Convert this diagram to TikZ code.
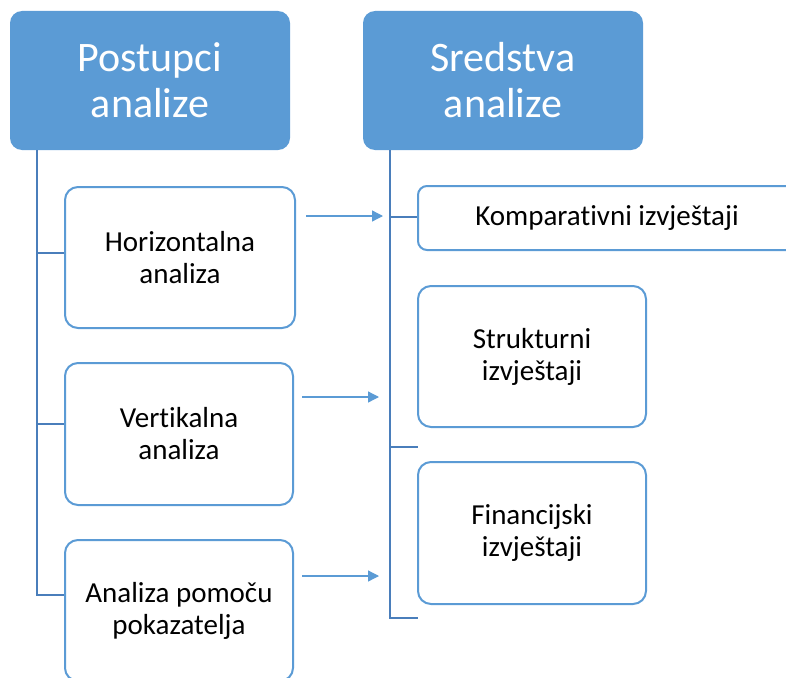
\documentclass[tikz,border=0pt]{standalone}
\usepackage{fontspec}
\setmainfont{Carlito}[RawFeature={-liga;-clig;-calt;-dlig;-rlig}]
\usetikzlibrary{arrows.meta}
\definecolor{hdr}{HTML}{5B9BD5}
\definecolor{bord}{HTML}{5B9BD5}
\definecolor{conn}{HTML}{4A7EBB}
\begin{document}
\begin{tikzpicture}[x=1pt,y=1pt,
  header/.style={draw=none,fill=hdr,rounded corners=12pt,text=white,align=center,
    font=\fontsize{42}{46}\selectfont,inner sep=0pt},
  itembox/.style={draw=bord,line width=2pt,fill=white,rounded corners=13pt,align=center,
    font=\fontsize{29}{32}\selectfont,inner sep=0pt},
  spine/.style={draw=conn,line width=2.6pt},
  arr/.style={draw=bord,line width=1.3pt,-{Triangle[length=11pt,width=11pt]}}]
\useasboundingbox (0,0) rectangle (786,-677);
\clip (0,0) rectangle (786,-677);
% headers
\node[header,minimum width=280,minimum height=139] (h1) at (150,-80.5) {Postupci\\analize};
\node[header,minimum width=280,minimum height=139] (h2) at (503,-80.5) {Sredstva\\analize};
% spine coordinates
\coordinate (sL) at (37,0);
\coordinate (sR) at (390,0);
% left spine
\draw[spine] (h1.south -| sL) -- (sL |- 0,-595) -- (65,-595) coordinate (l3b);
\draw[spine] (sL |- 0,-253) -- (65,-253) coordinate (l1b);
\draw[spine] (sL |- 0,-424) -- (65,-424) coordinate (l2b);
% right spine
\draw[spine] (h2.south -| sR) -- (sR |- 0,-618) -- (418,-618) coordinate (rEnd);
\draw[spine] (sR |- 0,-217) -- (418,-217) coordinate (rAb);
\draw[spine] (sR |- 0,-447) -- (418,-447) coordinate (rMid);
% left boxes
\node[itembox,minimum width=230,minimum height=141] (l1) at (180,-257.5) {Horizontalna\\analiza};
\node[itembox,minimum width=228,minimum height=142] (l2) at (179,-434) {Vert\kern0pt ikalna\\analiza};
\node[itembox,minimum width=228,minimum height=141] (l3) at (179,-610.5) {Analiza pomoču\\pokazatelja};
% right boxes
\node[itembox,minimum width=378,minimum height=64,rounded corners=9pt] (rA) at (607,-218) {Komparat\kern0pt ivni izvještaji};
\node[itembox,minimum width=228,minimum height=141] (rB) at (532,-356.5) {Strukturni\\izvještaji};
\node[itembox,minimum width=228,minimum height=142] (rC) at (532,-533) {Financijski\\izvještaji};
% arrows
\draw[arr] ([xshift=10pt,yshift=41.5pt]l1.east) -- ([xshift=-7pt,yshift=1pt]rAb -| sR);
\draw[arr] ([xshift=8pt,yshift=37pt]l2.east) -- ([xshift=-11pt,yshift=37pt]l2.east -| sR);
\draw[arr] ([xshift=8pt,yshift=34.5pt]l3.east) -- ([xshift=-11pt,yshift=34.5pt]l3.east -| sR);
\end{tikzpicture}
\end{document}
